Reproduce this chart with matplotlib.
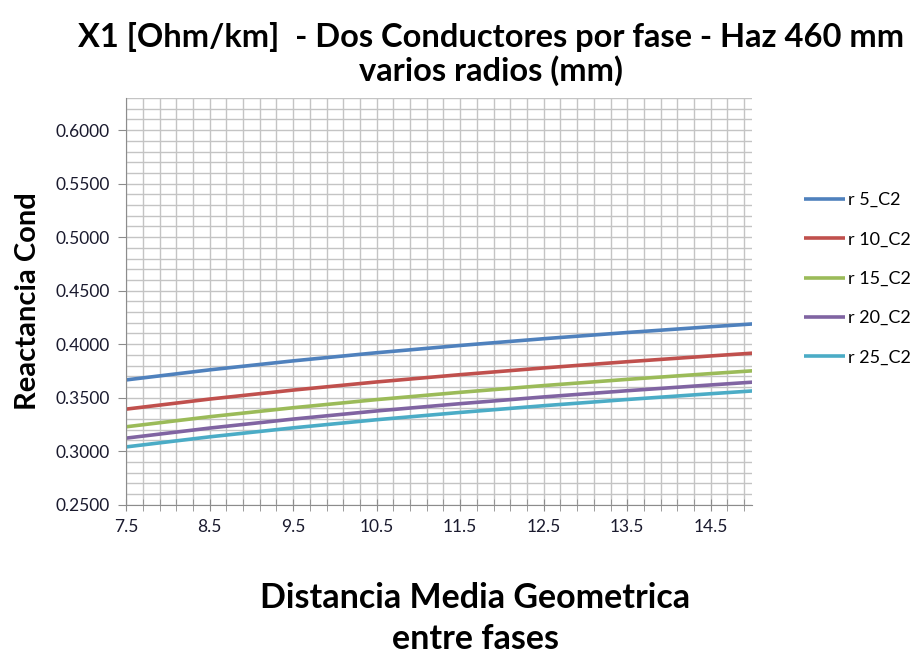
import numpy as np
from matplotlib import pyplot as plt
from matplotlib.ticker import FixedLocator

plt.rcParams['font.family'] = ['Lato', 'DejaVu Sans']

# distancia media geometrica (m)
dmg = [7.5, 8.5, 9.5, 10.5, 11.5, 12.5, 13.5, 14.5, 15.0]
r5 = [0.3666, 0.3760, 0.3844, 0.3920, 0.3988, 0.4051, 0.4109, 0.4163, 0.4189]
r10 = [0.3393, 0.3487, 0.3571, 0.3647, 0.3715, 0.3778, 0.3836, 0.3890, 0.3916]
r15 = [0.3228, 0.3322, 0.3406, 0.3482, 0.3550, 0.3613, 0.3671, 0.3725, 0.3751]
r20 = [0.3122, 0.3216, 0.3300, 0.3376, 0.3444, 0.3507, 0.3565, 0.3619, 0.3645]
r25 = [0.3040, 0.3134, 0.3218, 0.3294, 0.3362, 0.3425, 0.3483, 0.3537, 0.3563]
series = [r5, r10, r15, r20, r25]
nombres = ['r 5_C2', 'r 10_C2', 'r 15_C2', 'r 20_C2', 'r 25_C2']
colores = ['#4F81BD', '#C0504D', '#9BBB59', '#8064A2', '#4BACC6']
x_labels = ['7.5', '8.5', '9.5', '10.5', '11.5', '12.5', '13.5', '14.5']

fig = plt.figure(figsize=(9.21, 6.58), dpi=100)
ax = fig.add_axes([0.137, 0.233, 0.680, 0.618])

for ys, nombre, c in zip(series, nombres, colores):
    ax.plot(dmg, ys, color=c, lw=2.6, label=nombre, solid_capstyle='butt')

ax.set_xlim(7.5, 15.0)
ax.set_ylim(0.25, 0.63)
ax.set_xticks([float(v) for v in x_labels])
ax.set_xticklabels(x_labels)
ax.xaxis.set_minor_locator(FixedLocator(np.arange(7.5, 15.01, 0.2)))
ax.set_yticks(np.arange(0.25, 0.6001, 0.05))
ax.set_yticklabels(['{:.4f}'.format(v) for v in np.arange(0.25, 0.6001, 0.05)])
ax.yaxis.set_minor_locator(FixedLocator(np.arange(0.25, 0.6301, 0.01)))

ax.grid(which='both', color='#c4c4c4', lw=1.0)
ax.set_axisbelow(True)
for s in ['top', 'right']:
    ax.spines[s].set_visible(False)
for s in ['left', 'bottom']:
    ax.spines[s].set_color('#8c8c8c')
ax.tick_params(axis='x', which='both', direction='inout', length=8, color='#8c8c8c',
               labelsize=12.5, labelcolor='#1a1a2e', pad=6)
ax.tick_params(axis='y', which='major', direction='out', length=6, color='#8c8c8c',
               labelsize=12.5, labelcolor='#1a1a2e', pad=6)
ax.tick_params(axis='y', which='minor', length=0)

fig.text(0.533, 0.918, 'X1 [Ohm/km]  - Dos Conductores por fase - Haz 460 mm\nvarios radios (mm)',
         ha='center', va='center', fontsize=23.5, fontweight='bold', linespacing=1.15)
fig.text(0.03, 0.543, 'Reactancia Cond', rotation=90, ha='center', va='center',
         fontsize=21, fontweight='bold')
fig.text(0.516, 0.06, 'Distancia Media Geometrica\nentre fases', ha='center', va='center',
         fontsize=24.5, fontweight='bold', linespacing=1.38)

ax.legend(loc='upper left', bbox_to_anchor=(1.07, 0.787), frameon=False, fontsize=13,
          handlelength=2.3, handletextpad=0.15, labelspacing=1.3, borderaxespad=0)

plt.savefig('out.png', dpi=100)
